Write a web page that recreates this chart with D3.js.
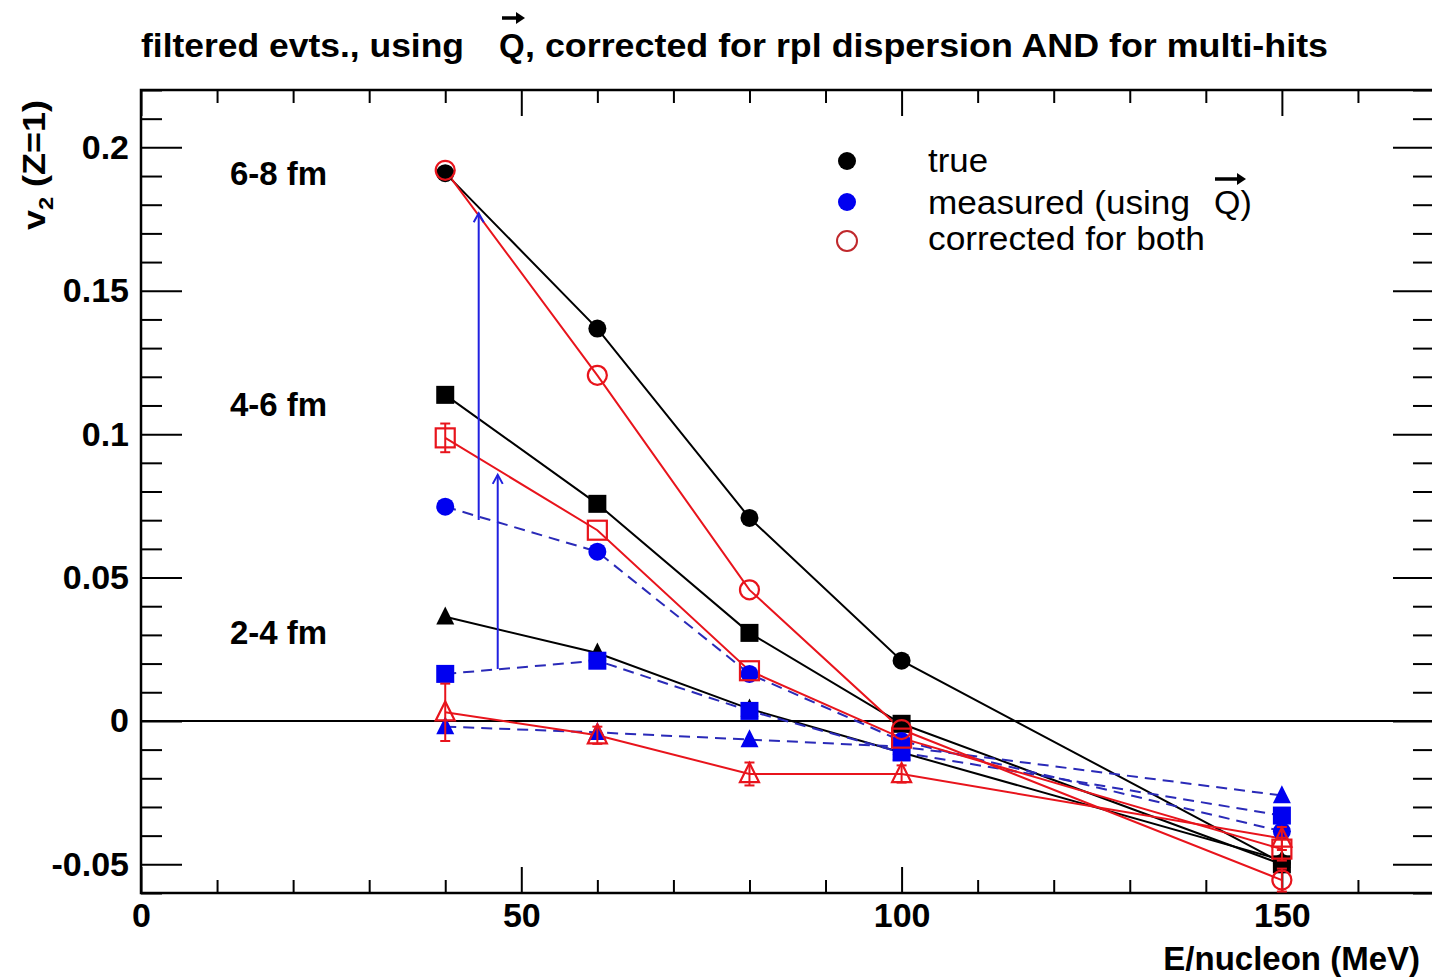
<!DOCTYPE html>
<html><head><meta charset="utf-8">
<script src="https://cdn.jsdelivr.net/npm/d3@7"></script>
<style>
html,body{margin:0;padding:0;background:#fff;}
svg{display:block;}
text{font-family:"Liberation Sans",Arial,Helvetica,sans-serif;}
</style></head>
<body>
<svg id="chart" width="1432" height="980"></svg>
<script>
// ---- data ----
const energies = [40, 60, 80, 100, 150];
const bands = ["6-8 fm", "4-6 fm", "2-4 fm"];
const bandLabelY = [0.191, 0.1106, 0.031];
// true (black, filled)
const true68 = [0.191, 0.1368, 0.0708, 0.021, -0.0495];
const true46 = [0.1137, 0.0757, 0.0307, -0.001, -0.0500];
const true24 = [0.0363, 0.0237, 0.0042, -0.011, -0.0485];
// measured (blue, filled, dashed)
const meas68 = [0.0747, 0.0590, 0.0164, -0.007, -0.0385];
const meas46 = [0.0164, 0.0210, 0.0035, -0.011, -0.0330];
const meas24 = [-0.0020, -0.0040, -0.0065, -0.009, -0.0260];
// corrected for both (red, open)
const corr68 = [0.192, 0.1205, 0.0457, -0.003, -0.0555];
const corr46 = [0.0987, 0.0665, 0.0175, -0.006, -0.0447];
const corr24 = [0.0030, -0.0050, -0.0185, -0.0185, -0.0410];
const corr68Err = [0, 0, 0, 0, 0.004];
const corr46Err = [0.005, 0, 0, 0, 0.004];
const corr24Err = [0.010, 0.003, 0.004, 0.003, 0.004];
// annotation arrows (x, from, to) in data units
const arrowX = [44.4, 46.9];
const arrowFrom = [0.0701, 0.0181];
const arrowTo = [0.177, 0.0858];
// axes
const xMajor = [0, 50, 100, 150];
const xMajorLabels = ["0", "50", "100", "150"];
const yMajor = [-0.05, 0, 0.05, 0.1, 0.15, 0.2];
const yMajorLabels = ["-0.05", "0", "0.05", "0.1", "0.15", "0.2"];
const legendLabels = ["true", "measured (using", "corrected for both"];

// ---- layout ----
const L = 141, R = 1434, T = 90, B = 893;
const svg = d3.select("#chart");
const x = d3.scaleLinear().domain([0, 170]).range([L, R]);
const y = d3.scaleLinear().domain([-0.06, 0.22]).range([B, T]);

const BLACK = "#000", BLUE = "#0000f0", DBLUE = "#2a2ab8", RED = "#e8141c";

// axes ticks
const xMinor = d3.range(0, 171, 10).filter(v => v % 50 !== 0);
const yMinor = d3.range(-6, 23, 1).map(v => v / 100).filter(v => Math.abs(Math.round(v * 100) % 5) !== 0);

function styleAxis(g) {
  g.select(".domain").remove();
  g.selectAll(".tick line").attr("stroke", "#000").attr("stroke-width", 2);
  g.selectAll("text").attr("font-size", 34).attr("font-weight", "bold").attr("fill", "#000");
}
svg.append("g").attr("transform", `translate(${L},0)`)
  .call(d3.axisLeft(y).tickValues(yMajor).tickSize(-41).tickPadding(12)
    .tickFormat((d, i) => yMajorLabels[i]))
  .call(styleAxis);
svg.append("g").attr("transform", `translate(${L},0)`)
  .call(d3.axisLeft(y).tickValues(yMinor).tickSize(-21).tickFormat(""))
  .call(styleAxis);
svg.append("g").attr("transform", `translate(${R},0)`)
  .call(d3.axisRight(y).tickValues(yMajor).tickSize(-41).tickFormat(""))
  .call(styleAxis);
svg.append("g").attr("transform", `translate(${R},0)`)
  .call(d3.axisRight(y).tickValues(yMinor).tickSize(-21).tickFormat(""))
  .call(styleAxis);
svg.append("g").attr("transform", `translate(0,${B})`)
  .call(d3.axisBottom(x).tickValues(xMajor).tickSize(-26).tickPadding(10)
    .tickFormat((d, i) => xMajorLabels[i]))
  .call(styleAxis)
  .selectAll("text").attr("dy", "0.71em");
svg.append("g").attr("transform", `translate(0,${B})`)
  .call(d3.axisBottom(x).tickValues(xMinor).tickSize(-13).tickFormat(""))
  .call(styleAxis);
svg.append("g").attr("transform", `translate(0,${T})`)
  .call(d3.axisTop(x).tickValues(xMajor).tickSize(-26).tickFormat(""))
  .call(styleAxis);
svg.append("g").attr("transform", `translate(0,${T})`)
  .call(d3.axisTop(x).tickValues(xMinor).tickSize(-13).tickFormat(""))
  .call(styleAxis);

// frame
svg.append("rect").attr("x", L).attr("y", T).attr("width", R - L).attr("height", B - T)
  .attr("fill", "none").attr("stroke", "#000").attr("stroke-width", 2.5);
// zero line
svg.append("line").attr("x1", L).attr("x2", R).attr("y1", y(0)).attr("y2", y(0))
  .attr("stroke", "#000").attr("stroke-width", 2);

// ---- series ----
const line = d3.line().x((d, i) => x(energies[i])).y(d => y(d));
const plot = svg.append("g");

const series = [
  {v: true68, shape: "circle", color: BLACK, lc: BLACK, dash: null, open: false},
  {v: true46, shape: "square", color: BLACK, lc: BLACK, dash: null, open: false},
  {v: true24, shape: "triangle", color: BLACK, lc: BLACK, dash: null, open: false},
  {v: meas68, shape: "circle", color: BLUE, lc: DBLUE, dash: "11,7", open: false},
  {v: meas46, shape: "square", color: BLUE, lc: DBLUE, dash: "11,7", open: false},
  {v: meas24, shape: "triangle", color: BLUE, lc: DBLUE, dash: "11,7", open: false},
  {v: corr68, e: corr68Err, shape: "circle", color: RED, lc: RED, dash: null, open: true},
  {v: corr46, e: corr46Err, shape: "square", color: RED, lc: RED, dash: null, open: true},
  {v: corr24, e: corr24Err, shape: "triangle", color: RED, lc: RED, dash: null, open: true},
];

function marker(g, shape, cx, cy, color, open) {
  const s = open ? 9.5 : 9;
  let el;
  if (shape === "circle") el = g.append("circle").attr("cx", cx).attr("cy", cy).attr("r", s);
  else if (shape === "square") el = g.append("rect").attr("x", cx - s).attr("y", cy - s).attr("width", 2 * s).attr("height", 2 * s);
  else el = g.append("path").attr("d", `M${cx},${cy - s * 1.15}L${cx + s},${cy + s * 0.85}L${cx - s},${cy + s * 0.85}Z`);
  if (open) el.attr("fill", "none").attr("stroke", color).attr("stroke-width", 2.2);
  else el.attr("fill", color).attr("stroke", "none");
}

// lines first
series.forEach(s => {
  plot.append("path").datum(s.v).attr("d", line).attr("fill", "none")
    .attr("stroke", s.lc).attr("stroke-width", 2)
    .attr("stroke-dasharray", s.dash);
});
// markers
series.forEach(s => {
  const g = plot.append("g");
  s.v.forEach((v, i) => {
    const cx = x(energies[i]), cy = y(v);
    if (s.e && s.e[i] > 0) {
      g.append("line").attr("x1", cx).attr("x2", cx).attr("y1", y(v - s.e[i])).attr("y2", y(v + s.e[i]))
        .attr("stroke", s.color).attr("stroke-width", 2);
      [v - s.e[i], v + s.e[i]].forEach(ev => g.append("line")
        .attr("x1", cx - 5).attr("x2", cx + 5).attr("y1", y(ev)).attr("y2", y(ev))
        .attr("stroke", s.color).attr("stroke-width", 2));
    }
    marker(g, s.shape, cx, cy, s.color, s.open);
  });
});

// annotation arrows
arrowX.forEach((ax, i) => {
  const px = x(ax), y0 = y(arrowFrom[i]), y1 = y(arrowTo[i]);
  svg.append("line").attr("x1", px).attr("x2", px).attr("y1", y0).attr("y2", y1)
    .attr("stroke", "#2020e0").attr("stroke-width", 2);
  svg.append("path").attr("d", `M${px - 5},${y1 + 9}L${px},${y1}L${px + 5},${y1 + 9}`)
    .attr("fill", "none").attr("stroke", "#2020e0").attr("stroke-width", 2);
});

// band labels
bands.forEach((b, i) => {
  svg.append("text").attr("x", x(11.7)).attr("y", y(bandLabelY[i])).attr("dy", "0.36em")
    .attr("font-size", 33).attr("font-weight", "bold").text(b);
});

// ---- legend ----
const legColors = [BLACK, BLUE, RED];
const legY = [161, 202, 241];
const legTextY = [172, 214, 250];
legendLabels.forEach((lab, i) => {
  if (i < 2) svg.append("circle").attr("cx", 847).attr("cy", legY[i]).attr("r", 9).attr("fill", legColors[i]);
  else svg.append("circle").attr("cx", 847).attr("cy", legY[i]).attr("r", 10).attr("fill", "none")
    .attr("stroke", "#c0282c").attr("stroke-width", 2);
  svg.append("text").attr("x", 928).attr("y", legTextY[i]).attr("font-size", 34)
    .attr("textLength", [60, 262, 277][i]).attr("lengthAdjust", "spacingAndGlyphs").text(lab);
});
svg.append("text").attr("x", 1214).attr("y", 214).attr("font-size", 34).text("Q)");
function vecArrow(x0, x1, yy) {
  svg.append("line").attr("x1", x0).attr("x2", x1 - 6).attr("y1", yy).attr("y2", yy)
    .attr("stroke", "#000").attr("stroke-width", 3.5);
  svg.append("path").attr("d", `M${x1 - 9},${yy - 6}L${x1},${yy}L${x1 - 9},${yy + 6}Z`).attr("fill", "#000");
}
vecArrow(1215, 1246, 179);

// ---- title ----
svg.append("text").attr("x", 141).attr("y", 57).attr("font-size", 33).attr("font-weight", "bold")
  .attr("textLength", 323).attr("lengthAdjust", "spacingAndGlyphs").text("filtered evts., using");
svg.append("text").attr("x", 499).attr("y", 57).attr("font-size", 33).attr("font-weight", "bold")
  .text("Q");
svg.append("text").attr("x", 525).attr("y", 57).attr("font-size", 33).attr("font-weight", "bold")
  .attr("textLength", 803).attr("lengthAdjust", "spacingAndGlyphs")
  .text(", corrected for rpl dispersion AND for multi-hits");
vecArrow(502, 525, 18);

// axis titles
svg.append("text").attr("x", 1420).attr("y", 970).attr("text-anchor", "end")
  .attr("font-size", 33).attr("font-weight", "bold").text("E/nucleon (MeV)");
const yt = svg.append("text").attr("transform", "translate(45,230) rotate(-90)")
  .attr("font-size", 32).attr("font-weight", "bold")
  .attr("textLength", 130).attr("lengthAdjust", "spacingAndGlyphs");
yt.append("tspan").text("v");
yt.append("tspan").attr("font-size", 21).attr("dy", 8).text("2");
yt.append("tspan").attr("dy", -8).text(" (Z=1)");
</script>
</body></html>
